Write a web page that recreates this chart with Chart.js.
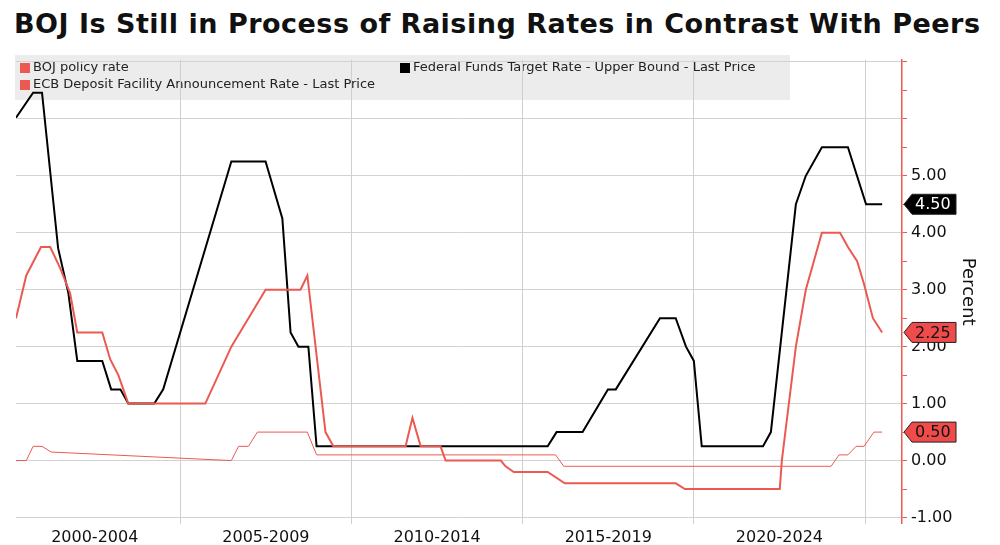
<!DOCTYPE html>
<html>
<head>
<meta charset="utf-8">
<script src="https://cdn.jsdelivr.net/npm/chart.js@4"></script>
<style>
  body { margin: 0; background: #fff; font-family: "DejaVu Sans", sans-serif; overflow: hidden; }
  #title { position: absolute; left: 14px; top: 8px; font: bold 27px "DejaVu Sans", sans-serif; color: #111; letter-spacing: 0.5px; white-space: nowrap; }
  #wrap { position: absolute; left: 0; top: 46px; width: 1000px; height: 505px; }
</style>
</head>
<body>
<div id="title">BOJ Is Still in Process of Raising Rates in Contrast With Peers</div>
<div id="wrap"><canvas id="c"></canvas></div>
<script>
// Fed funds target upper bound
const fedYears = [2000.20, 2000.70, 2000.96, 2001.43, 2001.73, 2001.99, 2002.72, 2002.98, 2003.25, 2003.48, 2004.24, 2004.50, 2006.49, 2007.49, 2007.98, 2008.22, 2008.45, 2008.74, 2008.98, 2015.73, 2015.99, 2016.75, 2017.49, 2017.72, 2019.01, 2019.47, 2019.77, 2020.00, 2020.23, 2022.02, 2022.25, 2022.98, 2023.27, 2023.74, 2024.50, 2025.03, 2025.50];
const fedValues = [6.02, 6.46, 6.46, 3.73, 2.94, 1.75, 1.75, 1.25, 1.25, 1.0, 1.0, 1.25, 5.25, 5.25, 4.25, 2.25, 2.0, 2.0, 0.25, 0.25, 0.5, 0.5, 1.25, 1.25, 2.5, 2.5, 2.0, 1.75, 0.25, 0.25, 0.5, 4.5, 5.0, 5.5, 5.5, 4.5, 4.5];
// ECB deposit facility rate
const ecbYears = [2000.20, 2000.50, 2000.93, 2001.20, 2001.49, 2001.78, 2001.99, 2002.72, 2002.95, 2003.19, 2003.48, 2005.73, 2006.49, 2006.99, 2007.49, 2008.51, 2008.71, 2009.24, 2009.47, 2011.58, 2011.78, 2012.02, 2012.60, 2012.75, 2014.36, 2014.50, 2014.74, 2015.73, 2016.23, 2019.47, 2019.74, 2022.51, 2022.57, 2022.98, 2023.27, 2023.74, 2024.27, 2024.50, 2024.77, 2024.97, 2025.23, 2025.50];
const ecbValues = [2.5, 3.25, 3.75, 3.75, 3.38, 2.94, 2.25, 2.25, 1.78, 1.5, 1.0, 1.0, 2.0, 2.5, 3.0, 3.0, 3.25, 0.5, 0.25, 0.25, 0.75, 0.25, 0.25, 0.0, 0.0, -0.1, -0.2, -0.2, -0.4, -0.4, -0.5, -0.5, 0.0, 2.0, 3.0, 4.0, 4.0, 3.75, 3.5, 3.1, 2.5, 2.25];
// BOJ policy rate
const bojYears = [2000.20, 2000.50, 2000.70, 2000.96, 2001.23, 2006.49, 2006.70, 2006.99, 2007.25, 2008.71, 2008.98, 2015.96, 2016.20, 2024.01, 2024.24, 2024.50, 2024.74, 2024.97, 2025.26, 2025.50];
const bojValues = [0.0, 0.0, 0.25, 0.25, 0.15, 0.0, 0.25, 0.25, 0.5, 0.5, 0.1, 0.1, -0.1, -0.1, 0.1, 0.1, 0.25, 0.25, 0.5, 0.5];
const periodLabels = ['2000-2004', '2005-2009', '2010-2014', '2015-2019', '2020-2024'];
const lastTags = [
  { value: 4.50, text: '4.50', bg: '#000', fg: '#fff' },
  { value: 2.25, text: '2.25', bg: '#ef4b4b', fg: '#111' },
  { value: 0.50, text: '0.50', bg: '#ef4b4b', fg: '#111' }
];

const RED = '#ea5a52';
const pts = (xs, ys) => xs.map((x, i) => ({ x: x, y: ys[i] }));

// grey legend band + value tags on right axis
const extras = {
  id: 'extras',
  beforeDraw(chart) {
    const ctx = chart.ctx;
    ctx.save();
    ctx.fillStyle = '#ececec';
    ctx.fillRect(15, 9, 775, 45);
    ctx.font = '13px "DejaVu Sans"';
    ctx.textBaseline = 'middle';
    const items = [
      [20, 22, RED, 'BOJ policy rate'],
      [20, 39, RED, 'ECB Deposit Facility Announcement Rate - Last Price'],
      [400, 22, '#000', 'Federal Funds Target Rate - Upper Bound - Last Price']
    ];
    items.forEach(([x, y, c, t]) => {
      ctx.fillStyle = c;
      ctx.fillRect(x, y - 5, 10, 10);
      ctx.fillStyle = '#222';
      ctx.fillText(t, x + 13, y);
    });
    ctx.restore();
  },
  afterDraw(chart) {
    const ctx = chart.ctx;
    const y = chart.scales.y;
    const x0 = y.left + 2;
    ctx.save();
    ctx.font = '16px "DejaVu Sans"';
    ctx.textBaseline = 'middle';
    lastTags.forEach(t => {
      const py = y.getPixelForValue(t.value);
      ctx.beginPath();
      ctx.moveTo(x0, py);
      ctx.lineTo(x0 + 8, py - 10);
      ctx.lineTo(x0 + 52, py - 10);
      ctx.lineTo(x0 + 52, py + 10);
      ctx.lineTo(x0 + 8, py + 10);
      ctx.closePath();
      ctx.fillStyle = t.bg;
      ctx.fill();
      ctx.strokeStyle = '#222';
      ctx.lineWidth = 1;
      ctx.stroke();
      ctx.fillStyle = t.fg;
      ctx.fillText(t.text, x0 + 11, py + 1);
    });
    ctx.restore();
  }
};

new Chart(document.getElementById('c'), {
  type: 'line',
  data: {
    datasets: [
      { label: 'BOJ policy rate', data: pts(bojYears, bojValues), borderColor: RED, borderWidth: 1, pointRadius: 0 },
      { label: 'ECB Deposit Facility Announcement Rate - Last Price', data: pts(ecbYears, ecbValues), borderColor: RED, borderWidth: 2, pointRadius: 0 },
      { label: 'Federal Funds Target Rate - Upper Bound - Last Price', data: pts(fedYears, fedValues), borderColor: '#000', borderWidth: 2, pointRadius: 0 }
    ]
  },
  options: {
    responsive: true,
    maintainAspectRatio: false,
    animation: false,
    layout: { padding: { left: 16, top: 9, right: 18, bottom: 0 } },
    plugins: { legend: { display: false }, tooltip: { enabled: false } },
    scales: {
      x: {
        type: 'linear',
        min: 2000.20,
        max: 2026.08,
        afterBuildTicks(s) {
          const t = [];
          for (let v = 2002.5; v <= 2025; v += 2.5) t.push({ value: v });
          s.ticks = t;
        },
        grid: {
          color: c => (c.tick && Math.abs(c.tick.value % 5) < 0.01) ? '#cfcfcf' : 'rgba(0,0,0,0)',
          drawTicks: false
        },
        border: { display: false },
        ticks: {
          autoSkip: false,
          maxRotation: 0,
          padding: 4,
          color: '#111',
          font: { size: 16, family: 'DejaVu Sans' },
          callback: v => {
            const i = Math.round((v - 2002.5) / 5);
            return Math.abs((v - 2002.5) % 5) < 0.01 ? periodLabels[i] : '';
          }
        }
      },
      y: {
        position: 'right',
        min: -1.11,
        max: 7.04,
        afterBuildTicks(s) {
          const t = [];
          for (let v = -1; v <= 7; v += 0.5) t.push({ value: v });
          s.ticks = t;
        },
        grid: {
          color: c => (c.tick && Number.isInteger(c.tick.value)) ? '#d2d2d2' : 'rgba(0,0,0,0)',
          tickColor: RED,
          tickLength: 5
        },
        border: { color: RED, width: 1.5 },
        ticks: {
          autoSkip: false,
          padding: 4,
          color: '#111',
          font: { size: 16, family: 'DejaVu Sans' },
          callback: v => (Number.isInteger(v) && v <= 5) ? v.toFixed(2) : ''
        },
        title: { display: true, text: 'Percent', color: '#111', font: { size: 18, family: 'DejaVu Sans' }, padding: { top: 4, bottom: 0 } }
      }
    }
  },
  plugins: [extras]
});
</script>
</body>
</html>
